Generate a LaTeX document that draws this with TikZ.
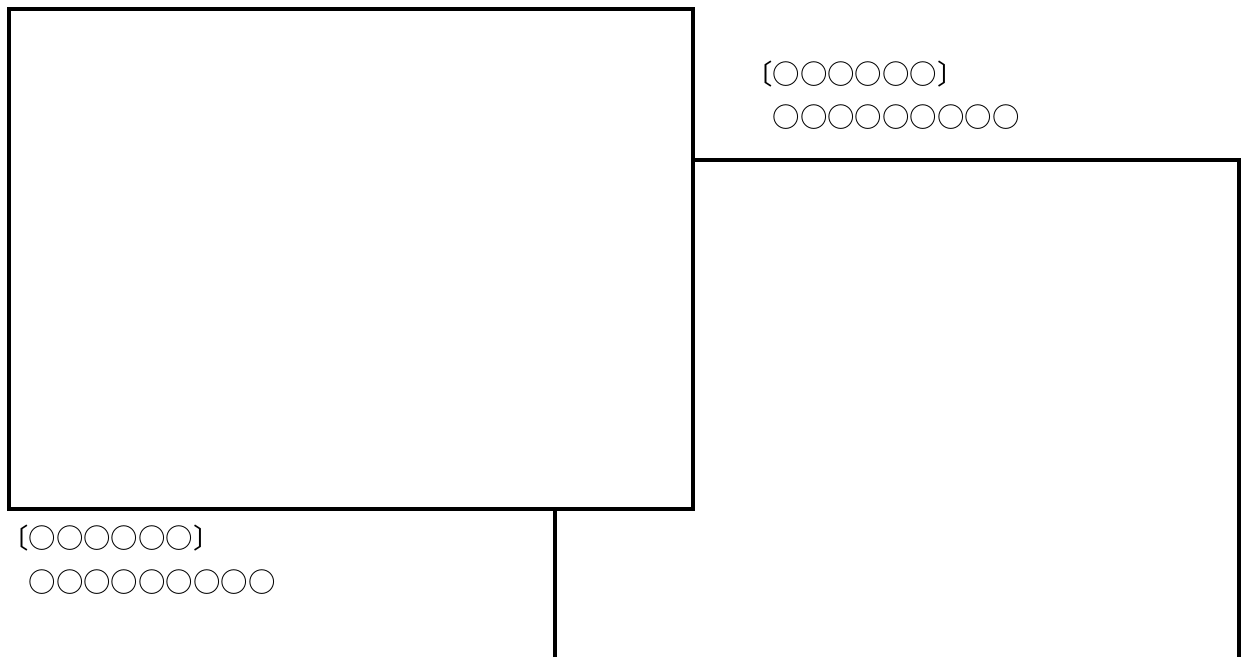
\documentclass[tikz,border=0pt]{standalone}
\usepackage{fontspec}
\newfontfamily\jpfont{Noto Sans CJK JP}
\begin{document}
\begin{tikzpicture}[x=0.01cm, y=-0.01cm,
    frame/.style={line width=1.15pt, line join=miter},
    label/.style={anchor=west, inner sep=0pt, font=\jpfont\fontsize{7.8}{9}\selectfont}]
    \useasboundingbox (0,0) rectangle (1248,657);
    % Back panel
    \draw [frame] (555,657) -- (555,160) -- (1239,160) -- (1239,657);
    % Front panel
    \draw [frame, fill=white] (9,9) rectangle (693,509);
    % Labels
    \node [label] (toptitle) at (744.5,74) {〔○○○○○○〕};
    \node [label] (toptext) at (744.5,117) {　○○○○○○○○○};
    \node [label] (bottitle) at (0.5,538) {〔○○○○○○〕};
    \node [label] (bottext) at (0.5,582) {　○○○○○○○○○};
\end{tikzpicture}
\end{document}
